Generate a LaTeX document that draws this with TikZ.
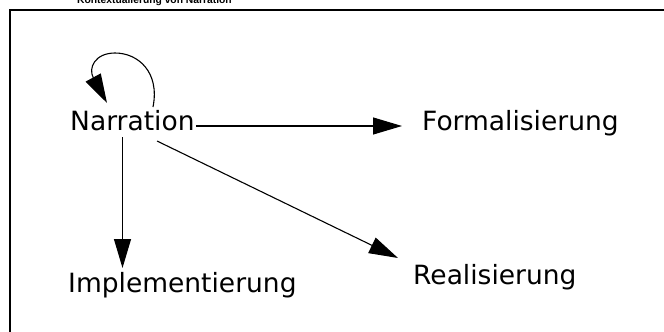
\documentclass[tikz,border=0pt]{standalone}
\usepackage{fontspec}
\setmainfont{DejaVu Sans}
\newfontfamily\titlefont{Liberation Sans}
\usetikzlibrary{arrows.meta,calc}

\tikzset{
  label/.style={inner sep=0pt, font=\fontsize{26.5}{30}\selectfont},
  heading/.style={inner sep=0pt, font=\titlefont\bfseries\fontsize{10.3}{12}\selectfont},
  frameline/.style={line width=2pt},
  link/.style={line width=1.1pt, -{Triangle[length=29pt,width=17pt]}},
}

\begin{document}
\begin{tikzpicture}[x=1pt,y=-1pt]
  \useasboundingbox (0,0) rectangle (664,332);

  % heading and open frame
  \node[heading, anchor=base west] (title) at (77,4) {Kontextualierung von Narration};
  \draw[frameline] (9.5,345) -- (9.5,10.3) -- (680,10.3);

  % terms
  \node[label, anchor=base west] (nar)  at (70,130)  {Narration};
  \node[label, anchor=base west] (form) at (422,130) {Formalisierung};
  \node[label, anchor=base west] (real) at (413,284) {Realisierung};
  \node[label, anchor=base west] (impl) at (68,292)  {Implementierung};

  % relations
  \draw[link] ($(nar.base east)+(1,-4)$) -- ($(form.base west)+(-20,-4)$);
  \draw[link] ($(nar.base west)+(52.5,7)$) -- ($(impl.base west)+(54.5,-24)$);
  \draw[link] ($(nar.base west)+(87,11)$) -- ($(real.base west)+(-15,-26)$);
  \draw[link] ($(nar.base west)+(83,-23)$)
     .. controls ($(nar.base west)+(90,-58)$) and ($(nar.base west)+(68,-77)$) .. ($(nar.base west)+(45,-77)$)
     .. controls ($(nar.base west)+(25,-77)$) and ($(nar.base west)+(18,-62)$) .. ($(nar.base west)+(37,-27)$);
\end{tikzpicture}
\end{document}
